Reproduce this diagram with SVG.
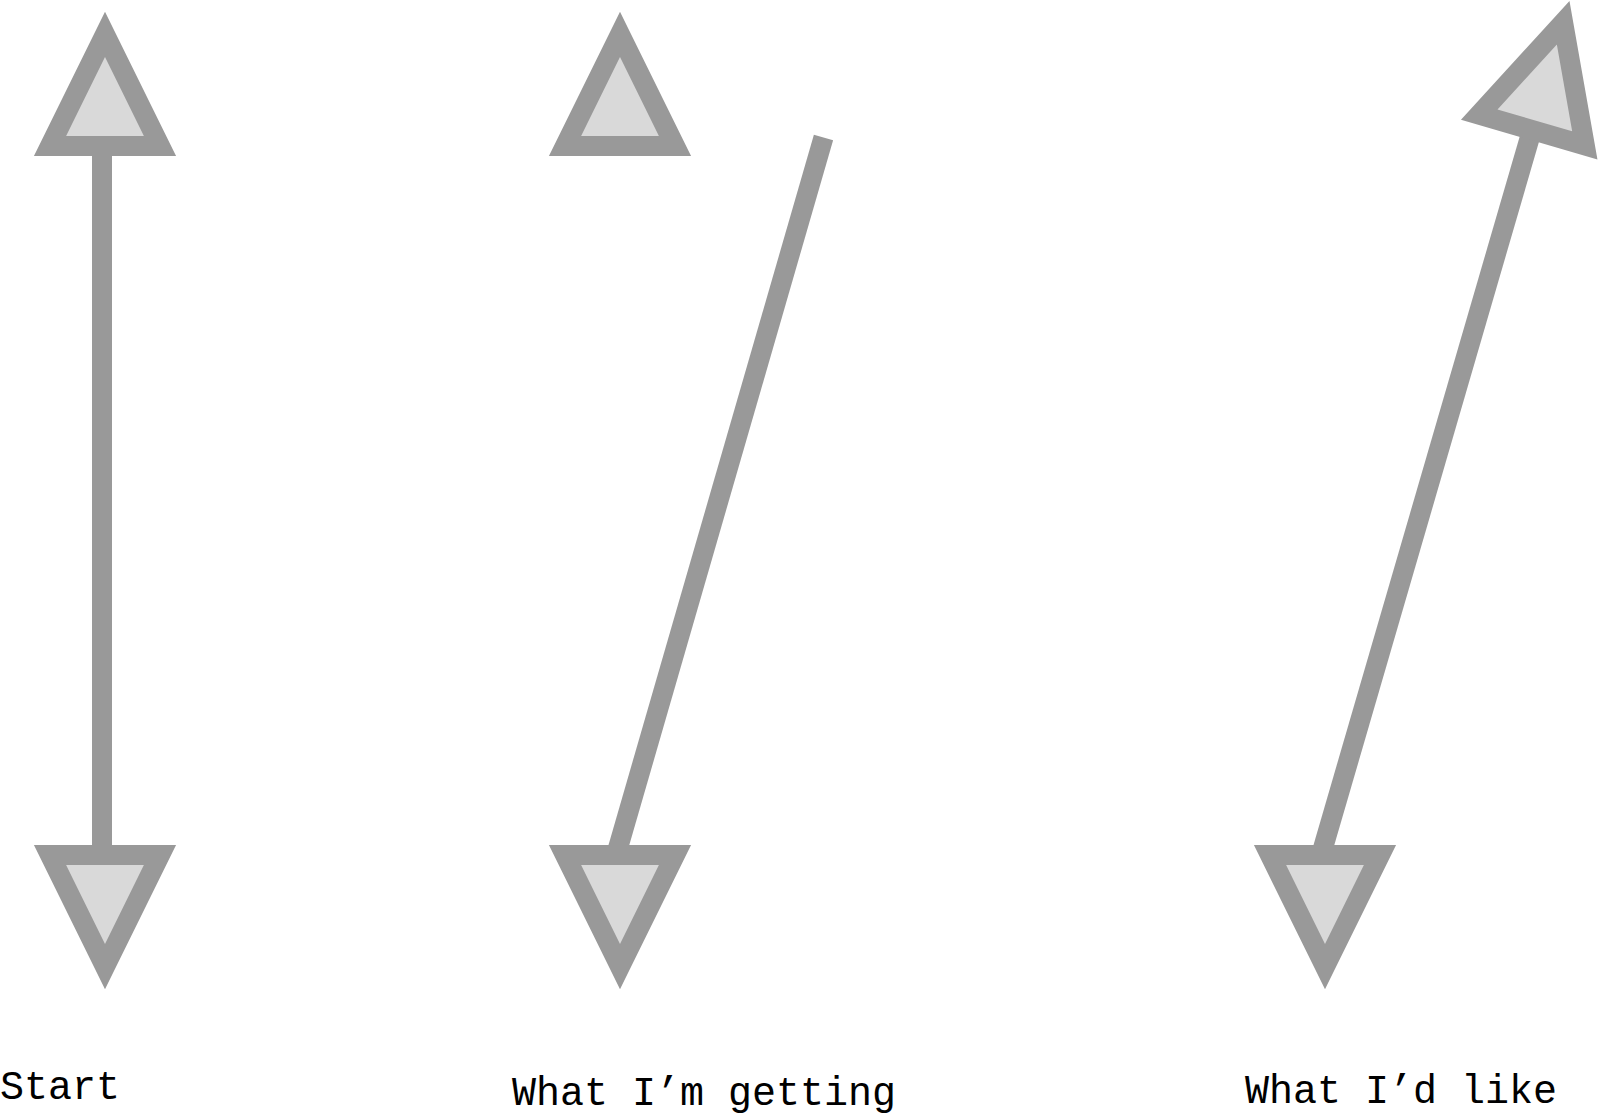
<svg xmlns="http://www.w3.org/2000/svg" width="1598" height="1116" viewBox="0 0 1598 1116">
<style>
.ln{stroke:#999999;stroke-width:20;fill:none;stroke-linecap:butt}
.hd{fill:#d9d9d9;stroke:#999999;stroke-width:20;stroke-linejoin:miter;stroke-miterlimit:10}
.lb{font-family:"Liberation Mono","DejaVu Sans Mono",monospace;font-size:40px;fill:#000000}
</style>
<defs>
<polygon id="up" points="0,-111.7 55,0 -55,0"/>
<polygon id="down" points="0,111.7 55,0 -55,0"/>
</defs>
<rect width="1598" height="1116" fill="#ffffff"/>
<g id="connectors">
<line class="ln" x1="102" y1="146" x2="102" y2="855"/>
<line class="ln" x1="616" y1="855" x2="823.5" y2="137.5"/>
<line class="ln" x1="1321" y1="855" x2="1532" y2="130"/>
</g>
<g id="start">
<use href="#up" class="hd" transform="translate(105,146)"/>
<use href="#down" class="hd" transform="translate(105,855)"/>
<text class="lb" x="0" y="1099">Start</text>
</g>
<g id="getting">
<use href="#up" class="hd" transform="translate(620,146)"/>
<use href="#down" class="hd" transform="translate(620,855)"/>
<text class="lb" x="512" y="1105">What I’m getting</text>
</g>
<g id="like">
<use href="#up" class="hd" transform="translate(1532,130) rotate(16.2)"/>
<use href="#down" class="hd" transform="translate(1325,855)"/>
<text class="lb" x="1245" y="1103">What I’d like</text>
</g>
</svg>
